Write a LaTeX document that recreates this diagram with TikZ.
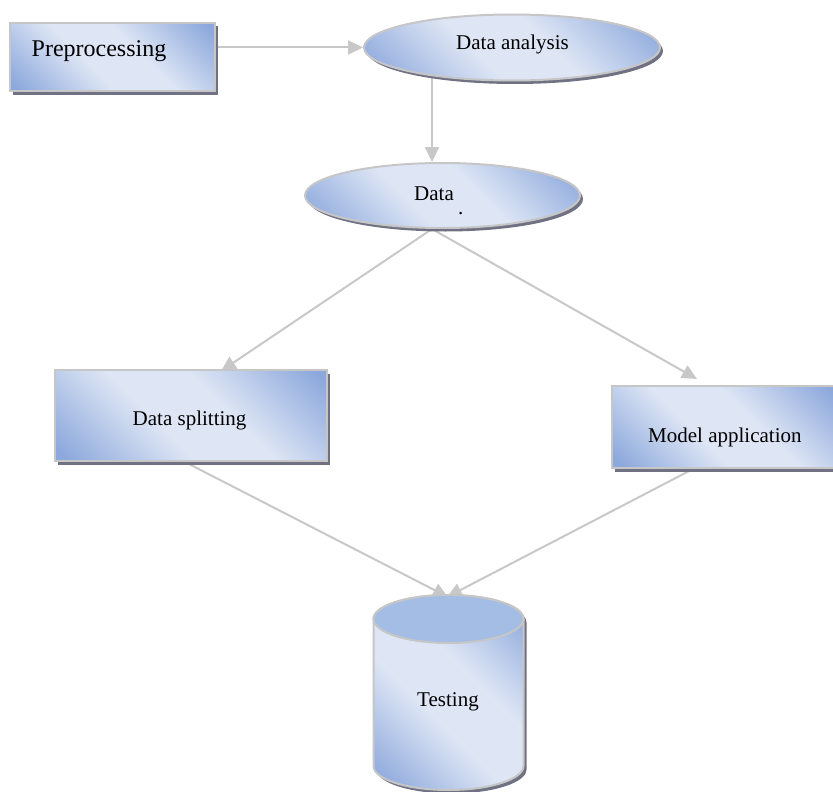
\documentclass[tikz,border=0pt]{standalone}
\usepackage{fontspec}
\setmainfont{Liberation Serif}
\usetikzlibrary{shapes.geometric,shadows,arrows.meta}
\definecolor{bord}{RGB}{198,198,198}
\definecolor{dkb}{RGB}{140,168,220}
\definecolor{ltb}{RGB}{222,230,245}
\definecolor{shd}{RGB}{112,114,132}
\definecolor{cyltop}{RGB}{164,189,228}
\definecolor{conc}{RGB}{200,200,200}
\pgfdeclareverticalshading{diagshade}{100bp}{color(0bp)=(dkb); color(17bp)=(dkb); color(42bp)=(ltb); color(58bp)=(ltb); color(83bp)=(dkb); color(100bp)=(dkb)}
\pgfdeclarelayer{background}
\pgfsetlayers{background,main}
\begin{document}
\begin{tikzpicture}[x=1pt,y=-1pt,
  shadefill/.style={shading=diagshade,shading angle=-45},
  myshadow/.style={drop shadow={shadow xshift=3pt,shadow yshift=-3.5pt,fill=shd,opacity=1}},
  boxnode/.style={shape=rectangle,draw=bord,line width=2pt,shadefill,inner sep=0pt,myshadow},
  ellnode/.style={shape=ellipse,draw=bord,line width=2pt,shadefill,inner sep=0pt,myshadow},
  lbl/.style={inner sep=0pt,anchor=base west,font=\fontsize{21}{25}\selectfont},
  conn/.style={draw=conc,line width=2pt,-{Triangle[length=15pt,width=14pt]}}]
\useasboundingbox (0,0) rectangle (833,792);

% shapes
\node[boxnode,minimum width=205pt,minimum height=68.5pt] (prep) at (112.5,57.25) {};
\node[ellnode,minimum width=296pt,minimum height=66pt] (dana) at (512,47.5) {};
\node[ellnode,minimum width=275pt,minimum height=65pt] (data) at (442.5,195.5) {};
\node[boxnode,minimum width=272pt,minimum height=91pt] (split) at (191,415.5) {};
\node[boxnode,minimum width=226pt,minimum height=82pt] (model) at (725,427) {};

% cylinder
\begin{scope}[shift={(3,3.5)}]
\fill[shd] (373.5,619) -- (373.5,766) arc[start angle=180,end angle=0,x radius=75,y radius=24]
  -- (523.5,619) arc[start angle=0,end angle=-180,x radius=75,y radius=24] -- cycle;
\end{scope}
\path[shadefill,draw=bord,line width=2pt] (373.5,619) -- (373.5,766)
  arc[start angle=180,end angle=0,x radius=75,y radius=24]
  -- (523.5,619) arc[start angle=0,end angle=-180,x radius=75,y radius=24] -- cycle;
\draw[fill=cyltop,draw=bord,line width=2pt] (448.5,619) ellipse[x radius=75,y radius=24];
\coordinate (testtop) at (448.5,595);

% labels
\node[lbl,font=\fontsize{24}{29}\selectfont] (tprep) at (31.5,56.7) {Preprocessing};
\node[lbl] (tdana) at (456,49.5) {Data analysis};
\node[lbl] (tdata) at (414,200) {Data};
\node[lbl] (tdot) at (458,214.5) {.};
\node[lbl] (tsplit) at (132.5,425.7) {Data splitting};
\node[lbl] (tmodel) at (648,442) {Model application};
\node[lbl] (ttest) at (417,706) {Testing};

% connectors
\begin{pgfonlayer}{background}
\draw[conn] (prep.east |- dana.west) -- (dana.west);
\draw[conn] ([xshift=-80pt]dana.center) -- ([xshift=-10.5pt]data.north);
\draw[conn] ([xshift=-10.5pt]data.south) -- ([xshift=30pt,yshift=-2pt]split.north);
\draw[conn] ([xshift=-10.5pt]data.south) -- ([xshift=-28pt,yshift=6pt]model.north);
\draw[conn] ([xshift=-6pt]split.south) -- ([xshift=-0.5pt,yshift=-2pt]testtop);
\draw[conn] ([xshift=-32pt]model.south) -- ([xshift=-1.5pt,yshift=-2pt]testtop);
\end{pgfonlayer}
\end{tikzpicture}
\end{document}
